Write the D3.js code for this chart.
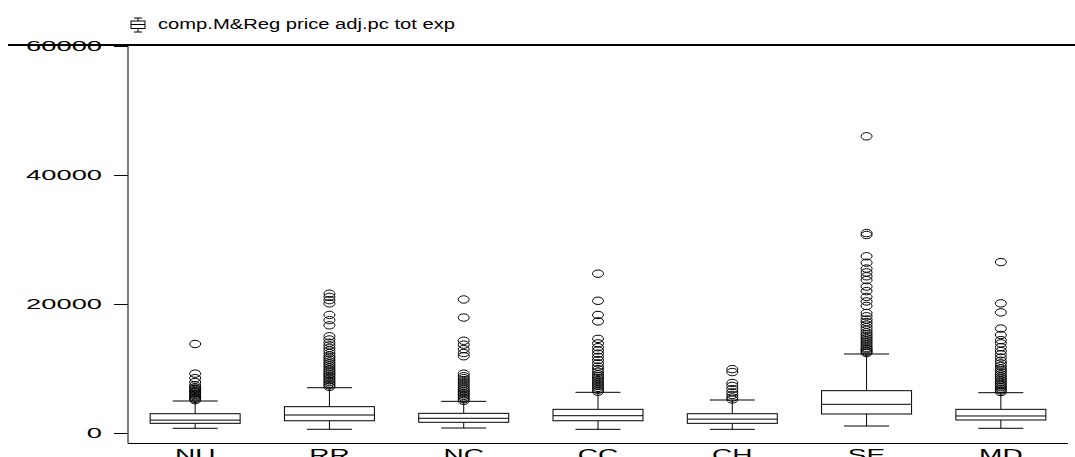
<!DOCTYPE html>
<html>
<head>
<meta charset="utf-8">
<script src="https://cdn.jsdelivr.net/npm/d3@7"></script>
<style>
  body { margin: 0; background: #fff; }
  text { font-family: "Liberation Sans", Arial, sans-serif; fill: #000; }
</style>
</head>
<body>
<div id="chart"></div>
<script>
// regions and box stats
var categories = ["NU", "RR", "NC", "CC", "CH", "SE", "MD"];
var lowWhisker = [730, 575, 775, 570, 570, 1085, 730];
var q1 = [1500, 1900, 1660, 1900, 1500, 2945, 2015];
var medians = [2000, 2790, 2280, 2680, 2150, 4450, 2640];
var q3 = [2990, 4080, 3050, 3670, 2990, 6560, 3670];
var highWhisker = [4960, 7020, 4910, 6310, 5115, 12250, 6250];

var outliers = [
  [5100, 5300, 5500, 5700, 5900, 6100, 6300, 6500, 6700, 6900, 7100, 7400, 7900, 8500, 9200, 13800],
  [7150, 7400, 7650, 7900, 8150, 8400, 8650, 8900, 9150, 9400, 9650, 9900, 10200, 10500, 10800, 11100,
   11400, 11700, 12000, 12400, 12800, 13200, 13600, 14000, 14500, 15000, 16700, 17500, 18300,
   20100, 20600, 21100, 21600],
  [5000, 5250, 5500, 5750, 6000, 6250, 6500, 6750, 7000, 7300, 7600, 7900, 8200, 8500, 8800, 9200,
   11900, 12400, 13000, 13700, 14300, 17900, 20700],
  [6400, 6700, 7000, 7300, 7600, 7900, 8200, 8500, 8800, 9100, 9500, 9900, 10300, 10800, 11300,
   11800, 12300, 12800, 13300, 13900, 14600, 17300, 18300, 20500, 24700],
  [5200, 5500, 5900, 6300, 6800, 7300, 7750, 9450, 9900],
  [12400, 12600, 12800, 13000, 13200, 13500, 13800, 14100, 14400, 14700, 15000, 15300, 15600, 16000,
   16400, 16800, 17200, 17600, 18100, 18600, 19700, 20400, 21100, 22000, 22700, 23700, 24300, 24900,
   25500, 26400, 27400, 30700, 31000, 46000],
  [6350, 6600, 6850, 7100, 7350, 7600, 7900, 8200, 8500, 8800, 9100, 9400, 9700, 10000, 10400, 10800,
   11200, 11700, 12200, 12700, 13300, 13900, 14400, 15200, 16200, 18700, 20100, 26500]
];

var yTicks = [0, 20000, 40000, 60000];
var title = "comp.M&Reg price adj.pc tot exp";

var svg = d3.select("#chart").append("svg")
  .attr("width", 1075)
  .attr("height", 457);

var x = d3.scalePoint()
  .domain(categories)
  .range([128, 1068])
  .padding(0.5);

var y = d3.scaleLinear()
  .domain([0, 60000])
  .range([433, 46]);

var boxW = 90, capW = 45;

// frame lines
svg.append("line")
  .attr("x1", 8).attr("x2", 1075)
  .attr("y1", 45).attr("y2", 45)
  .attr("stroke", "black")
  .attr("stroke-width", 2);

svg.append("line")
  .attr("x1", 128).attr("x2", 128)
  .attr("y1", 45).attr("y2", 443.5)
  .attr("stroke", "black");

svg.append("line")
  .attr("x1", 128).attr("x2", 1068)
  .attr("y1", 443.5).attr("y2", 443.5)
  .attr("stroke", "black");

// y axis ticks + labels
var yt = svg.append("g");
yt.selectAll("line")
  .data(yTicks)
  .enter().append("line")
    .attr("x1", 114).attr("x2", 128)
    .attr("y1", function(d){ return y(d) + 0.5; })
    .attr("y2", function(d){ return y(d) + 0.5; })
    .attr("stroke", "black");

yt.selectAll("g")
  .data(yTicks)
  .enter().append("g")
    .attr("transform", function(d){ return "translate(102," + y(d) + ") scale(1.95,1)"; })
  .append("text")
    .text(function(d){ return d; })
    .attr("text-anchor", "end")
    .attr("dy", "0.36em")
    .style("font-size", "14px");

// boxes
var stats = categories.map(function(c, i){
  return {cat: c, lo: lowWhisker[i], q1: q1[i], med: medians[i], q3: q3[i], hi: highWhisker[i], out: outliers[i]};
});

var boxes = svg.selectAll(".box")
  .data(stats)
  .enter().append("g")
    .attr("class", "box");

boxes.append("line")
  .attr("x1", function(d){ return x(d.cat); })
  .attr("x2", function(d){ return x(d.cat); })
  .attr("y1", function(d){ return y(d.q3); })
  .attr("y2", function(d){ return y(d.hi); })
  .attr("stroke", "black");

boxes.append("line")
  .attr("x1", function(d){ return x(d.cat); })
  .attr("x2", function(d){ return x(d.cat); })
  .attr("y1", function(d){ return y(d.q1); })
  .attr("y2", function(d){ return y(d.lo); })
  .attr("stroke", "black");

["hi", "lo"].forEach(function(k){
  boxes.append("line")
    .attr("x1", function(d){ return x(d.cat) - capW / 2; })
    .attr("x2", function(d){ return x(d.cat) + capW / 2; })
    .attr("y1", function(d){ return y(d[k]); })
    .attr("y2", function(d){ return y(d[k]); })
    .attr("stroke", "black");
});

boxes.append("rect")
  .attr("x", function(d){ return x(d.cat) - boxW / 2; })
  .attr("width", boxW)
  .attr("y", function(d){ return y(d.q3); })
  .attr("height", function(d){ return y(d.q1) - y(d.q3); })
  .attr("fill", "white")
  .attr("stroke", "black");

boxes.append("line")
  .attr("x1", function(d){ return x(d.cat) - boxW / 2; })
  .attr("x2", function(d){ return x(d.cat) + boxW / 2; })
  .attr("y1", function(d){ return y(d.med); })
  .attr("y2", function(d){ return y(d.med); })
  .attr("stroke", "black");

boxes.selectAll("ellipse")
  .data(function(d){ return d.out.map(function(v){ return {cat: d.cat, v: v}; }); })
  .enter().append("ellipse")
    .attr("cx", function(d){ return x(d.cat); })
    .attr("cy", function(d){ return y(d.v); })
    .attr("rx", 5.5)
    .attr("ry", 3.7)
    .attr("fill", "none")
    .attr("stroke", "black");

// x labels (cut off at the bottom like the original)
svg.selectAll(".xl")
  .data(categories)
  .enter().append("g")
    .attr("class", "xl")
    .attr("transform", function(d){ return "translate(" + x(d) + ",461) scale(1.65,1)"; })
  .append("text")
    .text(function(d){ return d; })
    .attr("text-anchor", "middle")
    .style("font-size", "17px");

// legend: little boxplot icon + title
var leg = svg.append("g").attr("transform", "translate(138,0)");
leg.append("line").attr("x1", 0).attr("x2", 0).attr("y1", 18).attr("y2", 32).attr("stroke", "black");
leg.append("line").attr("x1", -4).attr("x2", 4).attr("y1", 18).attr("y2", 18).attr("stroke", "black");
leg.append("line").attr("x1", -4).attr("x2", 4).attr("y1", 32).attr("y2", 32).attr("stroke", "black");
leg.append("rect").attr("x", -7).attr("y", 21).attr("width", 14).attr("height", 7.5)
  .attr("fill", "white").attr("stroke", "black");
leg.append("line").attr("x1", -7).attr("x2", 7).attr("y1", 24.5).attr("y2", 24.5).attr("stroke", "black");

svg.append("text")
  .text(title)
  .attr("x", 158)
  .attr("y", 29)
  .attr("textLength", 297)
  .attr("lengthAdjust", "spacingAndGlyphs")
  .style("font-size", "14px");
</script>
</body>
</html>
